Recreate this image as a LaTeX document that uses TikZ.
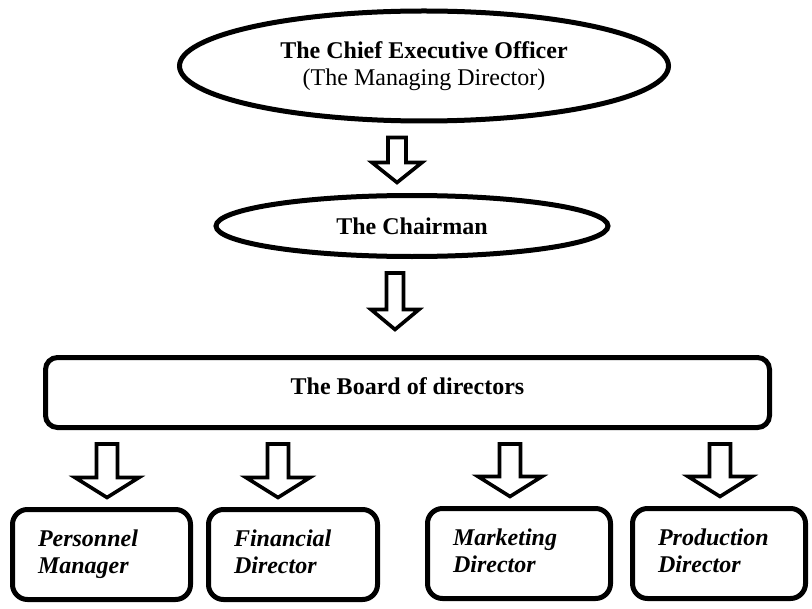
\documentclass[tikz,border=0pt]{standalone}
\usepackage{fontspec}
\setmainfont{Liberation Serif}
\usetikzlibrary{calc,
  shapes.geometric
}
\tikzstyle{oval} = [draw, ellipse, line width=2.5pt, inner sep=0pt, align=center,
  font=\fontsize{12}{13.5}\selectfont]
\tikzstyle{board} = [draw, rectangle, rounded corners=6pt, line width=2.5pt,
  font=\fontsize{12}{13.5}\selectfont\bfseries]
\tikzset{post/.style={draw, rectangle, rounded corners=7.5pt, line width=2.5pt,
    minimum height=45pt, text width=#1, inner xsep=12.75pt, align=left,
    execute at begin node=\strut, execute at end node=\strut,
    font=\fontsize{12}{13.5}\selectfont\bfseries\itshape},
  blockarrow/.style n args={3}{draw, fill=white, line width=1.8pt, line join=miter,
    to path={let \p1=(\tikztostart), \p2=(\tikztotarget) in
      (\x2-#1, \y1-7pt) -- (\x2-#1, \y2+#3+10pt) -- (\x2-#2, \y2+#3+10pt)
      -- (\x2, \y2+#3) -- (\x2+#2, \y2+#3+10pt) -- (\x2+#1, \y2+#3+10pt)
      -- (\x2+#1, \y1-7pt) -- cycle}}
}

\begin{document}
\begin{tikzpicture}[x=0.5pt, y=-0.5pt]
  \useasboundingbox (0,0) rectangle (812,609);

  % the chain from the top
  \node[oval, minimum width=244.5pt, minimum height=55pt] (ceo) at (424,66)
    {\textbf{The Chief Executive Officer}\\(The Managing Director)};
  \node[oval, minimum width=196pt, minimum height=30.5pt] (chair) at (412,226)
    {\textbf{The Chairman}};
  \node[board, minimum width=362pt, minimum height=35pt, text depth=6pt] (board) at (407.5,392.5)
    {The Board of directors};

  % the four directors
  \node[post=63.5pt, minimum width=89pt] (personnel) at (101.5,554.5) {Personnel\\Manager};
  \node[post=59pt, minimum width=84.5pt] (financial) at (293,554.5) {Financial\\Director};
  \node[post=66pt, minimum width=91.5pt] (marketing) at (519,553.5) {Marketing\\Director};
  \node[post=61pt, minimum width=86.5pt] (production) at (719,553.5) {Production\\Director};

  \draw[blockarrow={4.5pt}{12.5pt}{5.25pt}] (ceo.south) to ($(chair.north)+(-7.5pt,0)$);
  \draw[blockarrow={4.25pt}{12pt}{12.75pt}] (chair.south) to ($(board.north)+(-6.25pt,0)$);

  \draw[blockarrow={5.25pt}{16pt}{4.75pt}] (board.south) to ($(personnel.north)+(2.75pt,0)$);
  \draw[blockarrow={5.25pt}{16pt}{4.75pt}] (board.south) to ($(financial.north)+(-7.5pt,0)$);
  \draw[blockarrow={5.25pt}{16pt}{4.75pt}] (board.south) to ($(marketing.north)+(-4.5pt,0)$);
  \draw[blockarrow={5.25pt}{16pt}{4.75pt}] (board.south) to ($(production.north)+(0.5pt,0)$);
\end{tikzpicture}
\end{document}
